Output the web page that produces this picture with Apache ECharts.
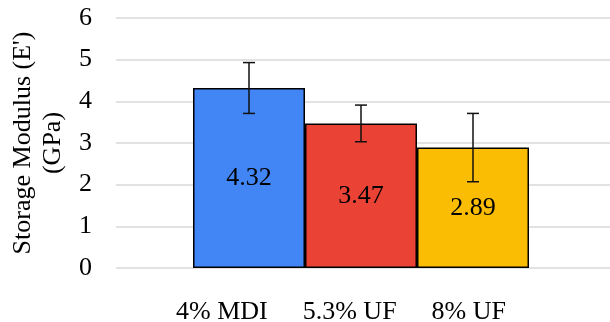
<!DOCTYPE html>
<html><head><meta charset="utf-8">
<script src="https://cdn.jsdelivr.net/npm/echarts@6/dist/echarts.min.js"></script>
<style>html,body{margin:0;padding:0;background:#fff}#c{width:610px;height:322px}</style>
</head><body><div id="c"></div>
<script>
const categories = ['4% MDI', '5.3% UF', '8% UF'];
const values = [4.32, 3.47, 2.89];
const errors = [0.61, 0.44, 0.82];
const yTicks = [0, 1, 2, 3, 4, 5, 6];
const yTitle = "Storage Modulus (E')\n(GPa)";
const colors = ['#4285F4', '#EA4335', '#FBBC04'];
const FONT = '"Liberation Serif","Times New Roman",serif';

const chart = echarts.init(document.getElementById('c'));
const gTop = 18, gBottom = 54;

const barSeries = categories.map((name, i) => ({
  type: 'bar', name: name, xAxisIndex: 1, yAxisIndex: 1,
  data: values.map((v, j) => (j === i ? v : '-')),
  barWidth: '100%', barGap: '-100%',
  itemStyle: { color: colors[i], borderColor: '#000', borderWidth: 1.5 },
  label: { show: true, position: 'inside', color: '#000', fontFamily: FONT, fontSize: 26 },
  z: 2
}));

const errSeries = {
  type: 'custom', xAxisIndex: 1, yAxisIndex: 1, z: 5, silent: true,
  data: values.map((v, i) => [i, v - errors[i], v + errors[i]]),
  renderItem: function (params, api) {
    const lo = api.coord([api.value(0), api.value(1)]);
    const hi = api.coord([api.value(0), api.value(2)]);
    const hw = 6;
    const st = { stroke: '#111', lineWidth: 1.5 };
    return { type: 'group', children: [
      { type: 'line', shape: { x1: hi[0], y1: hi[1], x2: lo[0], y2: lo[1] }, style: st },
      { type: 'line', shape: { x1: hi[0] - hw, y1: hi[1], x2: hi[0] + hw, y2: hi[1] }, style: st },
      { type: 'line', shape: { x1: lo[0] - hw, y1: lo[1], x2: lo[0] + hw, y2: lo[1] }, style: st }
    ]};
  }
};

chart.setOption({
  animation: false,
  grid: [
    { left: 110, right: 0, top: gTop, bottom: gBottom },
    { left: 193, right: 81, top: gTop, bottom: gBottom }
  ],
  xAxis: [
    { gridIndex: 0, type: 'category', data: [''], show: false },
    { gridIndex: 1, type: 'category', data: categories, show: false, boundaryGap: true }
  ],
  yAxis: [
    { gridIndex: 0, type: 'value', min: yTicks[0], max: yTicks[yTicks.length - 1], interval: 1,
      axisLine: { show: false }, axisTick: { show: false },
      axisLabel: { color: '#000', fontFamily: FONT, fontSize: 26, margin: 24 },
      splitLine: { lineStyle: { color: '#d9d9d9', width: 1.5 } },
      name: yTitle, nameLocation: 'middle', nameRotate: 90, nameGap: 36,
      nameTextStyle: { color: '#000', fontFamily: FONT, fontSize: 26, lineHeight: 30 } },
    { gridIndex: 1, type: 'value', min: yTicks[0], max: yTicks[yTicks.length - 1], interval: 1, show: false,
      splitLine: { show: false } }
  ],
  legend: {
    data: categories, left: 165, top: 293,
    itemWidth: 0, itemHeight: 0, itemGap: 29, icon: 'rect',
    textStyle: { color: '#000', fontFamily: FONT, fontSize: 26, lineHeight: 28 }
  },
  series: barSeries.concat([errSeries])
});
</script>
</body></html>
